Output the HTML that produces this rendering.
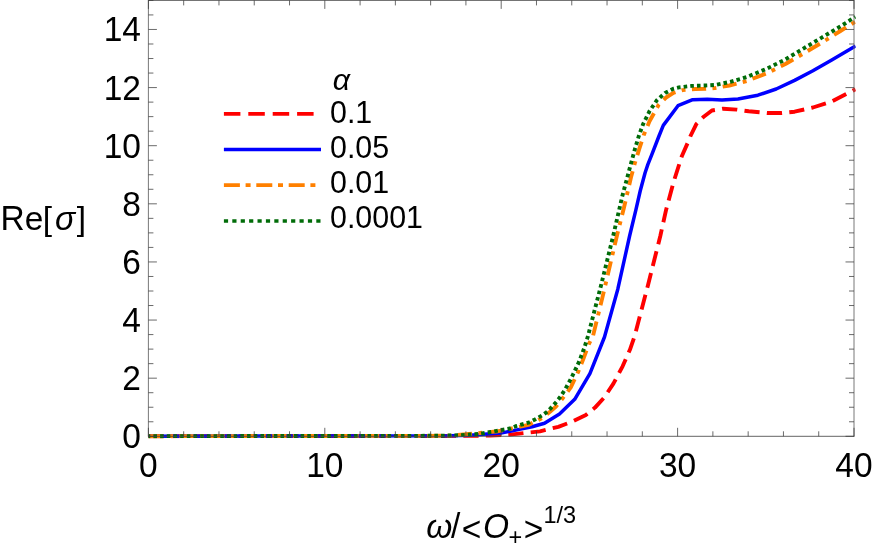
<!DOCTYPE html>
<html><head><meta charset="utf-8"><title>plot</title>
<style>
html,body{margin:0;padding:0;background:#fff;}
body{width:872px;height:545px;overflow:hidden;}
svg{display:block;will-change:transform;}
text{font-family:"Liberation Sans",sans-serif;fill:#000;}
</style></head><body>
<svg width="872" height="545" viewBox="0 0 872 545">
<rect x="0" y="0" width="872" height="545" fill="#fff"/>
<defs><clipPath id="c"><rect x="147.9" y="0" width="707.80" height="438.50"/></clipPath></defs>
<g fill="none" stroke-width="3.9" stroke-linejoin="round" clip-path="url(#c)">
<path d="M148.5 436.2 L470.0 435.9 L490.0 435.5 L510.0 434.6 L528.4 432.6 L540.0 431.4 L558.3 426.8 L573.0 421.3 L585.9 414.9 L595.0 407.6 L604.2 397.5 L613.4 383.7 L622.6 366.3 L629.9 349.8 L634.8 335.5 L647.9 285.5 L660.3 236.0 L666.2 209.4 L673.6 181.9 L681.8 156.2 L688.3 141.5 L690.5 136.0 L696.3 124.1 L703.7 116.7 L711.9 110.5 L722.9 108.7 L736.7 109.6 L748.7 111.3 L767.0 113.0 L781.7 113.0 L794.6 111.7 L812.9 107.5 L831.3 101.7 L847.8 93.2 L855.5 89.2" stroke="#ff0000" stroke-dasharray="15.2 7.29"/>
<path d="M148.5 436.2 L450.0 435.8 L470.0 435.3 L500.9 433.1 L519.3 429.4 L532.1 426.7 L544.5 423.2 L559.5 414.0 L574.7 399.3 L589.9 373.6 L604.5 337.0 L617.8 289.2 L629.6 236.0 L636.0 209.4 L640.2 191.0 L645.1 172.7 L647.9 164.4 L651.9 154.3 L659.0 136.0 L663.3 125.4 L678.0 105.7 L692.7 99.7 L707.3 99.3 L722.0 99.9 L738.0 99.0 L757.9 95.2 L776.2 89.0 L794.6 80.4 L812.9 70.8 L831.3 60.2 L855.5 45.9" stroke="#0000ff" stroke-width="3.5"/>
<path d="M148.5 436.2 L450.0 435.8 L480.0 433.0 L498.3 431.2 L516.7 427.5 L528.4 424.9 L543.1 417.5 L549.7 412.1 L556.0 406.5 L562.6 398.4 L570.8 387.4 L578.2 371.8 L583.7 358.0 L589.2 343.3 L593.0 336.0 L602.2 298.4 L617.2 234.6 L624.0 207.6 L631.0 177.3 L635.0 162.6 L639.6 147.9 L643.7 135.2 L649.5 121.3 L658.7 104.8 L666.1 97.5 L673.4 92.9 L682.6 90.1 L695.4 89.0 L705.5 88.8 L714.7 88.1 L729.4 85.5 L746.8 81.0 L767.0 73.2 L785.4 64.0 L803.7 53.4 L822.1 42.4 L840.4 31.0 L855.5 21.6" stroke="#ff8000" stroke-dasharray="14.2 6.4 3.94 6.4"/>
<path d="M148.5 436.2 L440.0 435.8 L460.0 435.2 L478.9 434.0 L491.7 431.8 L498.3 430.5 L510.1 428.5 L516.7 425.9 L528.4 422.7 L535.0 419.5 L543.1 414.8 L547.9 411.2 L552.3 406.5 L557.1 401.1 L560.0 397.3 L565.3 389.2 L571.7 377.3 L579.1 361.7 L584.6 347.0 L588.0 336.0 L601.0 285.5 L613.5 234.5 L622.2 196.6 L629.5 169.0 L635.0 148.8 L638.8 136.0 L643.1 124.1 L649.5 111.2 L656.9 100.2 L665.1 92.9 L673.4 88.7 L678.9 87.4 L691.7 85.9 L705.5 85.5 L715.0 85.0 L730.3 81.8 L746.5 77.2 L767.0 68.6 L785.4 59.4 L803.7 48.4 L822.1 37.4 L840.4 26.4 L855.5 16.8" stroke="#006c08" stroke-dasharray="3.6 3.09" stroke-dashoffset="1.8"/>
</g>
<g stroke-width="0.9" fill="none">
<path d="M148.4 0.40V436.3 M854.0 0.40V436.3" stroke="#6a6a6a"/>
<path d="M147.95 0.40H854.45 M147.95 436.3H854.45" stroke="#484848" stroke-width="0.85"/>
</g>
<g stroke="#3a3a3a" stroke-width="0.75">
<line x1="148.4" y1="436.30" x2="156.9" y2="436.30"/>
<line x1="854.0" y1="436.30" x2="845.5" y2="436.30"/>
<line x1="148.4" y1="421.77" x2="153.4" y2="421.77"/>
<line x1="854.0" y1="421.77" x2="849.0" y2="421.77"/>
<line x1="148.4" y1="407.24" x2="153.4" y2="407.24"/>
<line x1="854.0" y1="407.24" x2="849.0" y2="407.24"/>
<line x1="148.4" y1="392.71" x2="153.4" y2="392.71"/>
<line x1="854.0" y1="392.71" x2="849.0" y2="392.71"/>
<line x1="148.4" y1="378.18" x2="156.9" y2="378.18"/>
<line x1="854.0" y1="378.18" x2="845.5" y2="378.18"/>
<line x1="148.4" y1="363.65" x2="153.4" y2="363.65"/>
<line x1="854.0" y1="363.65" x2="849.0" y2="363.65"/>
<line x1="148.4" y1="349.12" x2="153.4" y2="349.12"/>
<line x1="854.0" y1="349.12" x2="849.0" y2="349.12"/>
<line x1="148.4" y1="334.59" x2="153.4" y2="334.59"/>
<line x1="854.0" y1="334.59" x2="849.0" y2="334.59"/>
<line x1="148.4" y1="320.06" x2="156.9" y2="320.06"/>
<line x1="854.0" y1="320.06" x2="845.5" y2="320.06"/>
<line x1="148.4" y1="305.53" x2="153.4" y2="305.53"/>
<line x1="854.0" y1="305.53" x2="849.0" y2="305.53"/>
<line x1="148.4" y1="291.00" x2="153.4" y2="291.00"/>
<line x1="854.0" y1="291.00" x2="849.0" y2="291.00"/>
<line x1="148.4" y1="276.47" x2="153.4" y2="276.47"/>
<line x1="854.0" y1="276.47" x2="849.0" y2="276.47"/>
<line x1="148.4" y1="261.94" x2="156.9" y2="261.94"/>
<line x1="854.0" y1="261.94" x2="845.5" y2="261.94"/>
<line x1="148.4" y1="247.41" x2="153.4" y2="247.41"/>
<line x1="854.0" y1="247.41" x2="849.0" y2="247.41"/>
<line x1="148.4" y1="232.88" x2="153.4" y2="232.88"/>
<line x1="854.0" y1="232.88" x2="849.0" y2="232.88"/>
<line x1="148.4" y1="218.35" x2="153.4" y2="218.35"/>
<line x1="854.0" y1="218.35" x2="849.0" y2="218.35"/>
<line x1="148.4" y1="203.82" x2="156.9" y2="203.82"/>
<line x1="854.0" y1="203.82" x2="845.5" y2="203.82"/>
<line x1="148.4" y1="189.29" x2="153.4" y2="189.29"/>
<line x1="854.0" y1="189.29" x2="849.0" y2="189.29"/>
<line x1="148.4" y1="174.76" x2="153.4" y2="174.76"/>
<line x1="854.0" y1="174.76" x2="849.0" y2="174.76"/>
<line x1="148.4" y1="160.23" x2="153.4" y2="160.23"/>
<line x1="854.0" y1="160.23" x2="849.0" y2="160.23"/>
<line x1="148.4" y1="145.70" x2="156.9" y2="145.70"/>
<line x1="854.0" y1="145.70" x2="845.5" y2="145.70"/>
<line x1="148.4" y1="131.17" x2="153.4" y2="131.17"/>
<line x1="854.0" y1="131.17" x2="849.0" y2="131.17"/>
<line x1="148.4" y1="116.64" x2="153.4" y2="116.64"/>
<line x1="854.0" y1="116.64" x2="849.0" y2="116.64"/>
<line x1="148.4" y1="102.11" x2="153.4" y2="102.11"/>
<line x1="854.0" y1="102.11" x2="849.0" y2="102.11"/>
<line x1="148.4" y1="87.58" x2="156.9" y2="87.58"/>
<line x1="854.0" y1="87.58" x2="845.5" y2="87.58"/>
<line x1="148.4" y1="73.05" x2="153.4" y2="73.05"/>
<line x1="854.0" y1="73.05" x2="849.0" y2="73.05"/>
<line x1="148.4" y1="58.52" x2="153.4" y2="58.52"/>
<line x1="854.0" y1="58.52" x2="849.0" y2="58.52"/>
<line x1="148.4" y1="43.99" x2="153.4" y2="43.99"/>
<line x1="854.0" y1="43.99" x2="849.0" y2="43.99"/>
<line x1="148.4" y1="29.46" x2="156.9" y2="29.46"/>
<line x1="854.0" y1="29.46" x2="845.5" y2="29.46"/>
<line x1="148.4" y1="14.93" x2="153.4" y2="14.93"/>
<line x1="854.0" y1="14.93" x2="849.0" y2="14.93"/>
<line x1="148.4" y1="0.40" x2="153.4" y2="0.40"/>
<line x1="854.0" y1="0.40" x2="849.0" y2="0.40"/>
<line x1="148.40" y1="436.3" x2="148.40" y2="427.8"/>
<line x1="148.40" y1="0.40" x2="148.40" y2="8.90"/>
<line x1="183.68" y1="436.3" x2="183.68" y2="431.3"/>
<line x1="183.68" y1="0.40" x2="183.68" y2="5.40"/>
<line x1="218.96" y1="436.3" x2="218.96" y2="431.3"/>
<line x1="218.96" y1="0.40" x2="218.96" y2="5.40"/>
<line x1="254.24" y1="436.3" x2="254.24" y2="431.3"/>
<line x1="254.24" y1="0.40" x2="254.24" y2="5.40"/>
<line x1="289.52" y1="436.3" x2="289.52" y2="431.3"/>
<line x1="289.52" y1="0.40" x2="289.52" y2="5.40"/>
<line x1="324.80" y1="436.3" x2="324.80" y2="427.8"/>
<line x1="324.80" y1="0.40" x2="324.80" y2="8.90"/>
<line x1="360.08" y1="436.3" x2="360.08" y2="431.3"/>
<line x1="360.08" y1="0.40" x2="360.08" y2="5.40"/>
<line x1="395.36" y1="436.3" x2="395.36" y2="431.3"/>
<line x1="395.36" y1="0.40" x2="395.36" y2="5.40"/>
<line x1="430.64" y1="436.3" x2="430.64" y2="431.3"/>
<line x1="430.64" y1="0.40" x2="430.64" y2="5.40"/>
<line x1="465.92" y1="436.3" x2="465.92" y2="431.3"/>
<line x1="465.92" y1="0.40" x2="465.92" y2="5.40"/>
<line x1="501.20" y1="436.3" x2="501.20" y2="427.8"/>
<line x1="501.20" y1="0.40" x2="501.20" y2="8.90"/>
<line x1="536.48" y1="436.3" x2="536.48" y2="431.3"/>
<line x1="536.48" y1="0.40" x2="536.48" y2="5.40"/>
<line x1="571.76" y1="436.3" x2="571.76" y2="431.3"/>
<line x1="571.76" y1="0.40" x2="571.76" y2="5.40"/>
<line x1="607.04" y1="436.3" x2="607.04" y2="431.3"/>
<line x1="607.04" y1="0.40" x2="607.04" y2="5.40"/>
<line x1="642.32" y1="436.3" x2="642.32" y2="431.3"/>
<line x1="642.32" y1="0.40" x2="642.32" y2="5.40"/>
<line x1="677.60" y1="436.3" x2="677.60" y2="427.8"/>
<line x1="677.60" y1="0.40" x2="677.60" y2="8.90"/>
<line x1="712.88" y1="436.3" x2="712.88" y2="431.3"/>
<line x1="712.88" y1="0.40" x2="712.88" y2="5.40"/>
<line x1="748.16" y1="436.3" x2="748.16" y2="431.3"/>
<line x1="748.16" y1="0.40" x2="748.16" y2="5.40"/>
<line x1="783.44" y1="436.3" x2="783.44" y2="431.3"/>
<line x1="783.44" y1="0.40" x2="783.44" y2="5.40"/>
<line x1="818.72" y1="436.3" x2="818.72" y2="431.3"/>
<line x1="818.72" y1="0.40" x2="818.72" y2="5.40"/>
<line x1="854.00" y1="436.3" x2="854.00" y2="427.8"/>
<line x1="854.00" y1="0.40" x2="854.00" y2="8.90"/>
</g>
<text transform="translate(140.90 448.30) scale(1 1.07)" font-size="33.5" text-anchor="end">0</text>
<text transform="translate(140.90 390.18) scale(1 1.07)" font-size="33.5" text-anchor="end">2</text>
<text transform="translate(140.90 332.06) scale(1 1.07)" font-size="33.5" text-anchor="end">4</text>
<text transform="translate(140.90 273.94) scale(1 1.07)" font-size="33.5" text-anchor="end">6</text>
<text transform="translate(140.90 215.82) scale(1 1.07)" font-size="33.5" text-anchor="end">8</text>
<text transform="translate(140.90 157.70) scale(1 1.07)" font-size="33.5" text-anchor="end">10</text>
<text transform="translate(140.90 99.58) scale(1 1.07)" font-size="33.5" text-anchor="end">12</text>
<text transform="translate(140.90 41.46) scale(1 1.07)" font-size="33.5" text-anchor="end">14</text>
<text transform="translate(148.40 476.90) scale(1 1.07)" font-size="33.5" text-anchor="middle">0</text>
<text transform="translate(324.80 476.90) scale(1 1.07)" font-size="33.5" text-anchor="middle">10</text>
<text transform="translate(501.20 476.90) scale(1 1.07)" font-size="33.5" text-anchor="middle">20</text>
<text transform="translate(677.60 476.90) scale(1 1.07)" font-size="33.5" text-anchor="middle">30</text>
<text transform="translate(854.00 476.90) scale(1 1.07)" font-size="33.5" text-anchor="middle">40</text>
<text transform="translate(0.60 230.00) scale(1 1.04)" font-size="33.5" text-anchor="start">R</text><text transform="translate(24.77 230.00) scale(1 0.98)" font-size="33.5" text-anchor="start">e</text><text transform="translate(42.81 230.30) scale(1 0.98)" font-size="33.5" text-anchor="start">[</text><text transform="translate(55.02 230.00) scale(1 0.98)" font-size="33.5" text-anchor="start" font-style="italic">σ</text><text transform="translate(76.72 230.30) scale(1 0.98)" font-size="33.5" text-anchor="start">]</text>
<text transform="translate(426.30 537.50) scale(1 0.98)" font-size="33.5" text-anchor="start" font-style="italic">ω</text><text transform="translate(451.08 537.50) scale(1 1.04)" font-size="33.5" text-anchor="start">/</text><text transform="translate(461.79 541.14) scale(1 1.04)" font-size="33.5" text-anchor="start">&lt;</text><text transform="translate(482.95 537.50) scale(1 1.04)" font-size="33.5" text-anchor="start" font-style="italic">O</text><text transform="translate(508.50 544.99) scale(1 1.04)" font-size="23.5" text-anchor="start">+</text><text transform="translate(523.63 541.14) scale(1 1.04)" font-size="33.5" text-anchor="start">&gt;</text><text transform="translate(543.49 522.52) scale(1 1.04)" font-size="23.5" text-anchor="start">1/3</text>
<g fill="none" stroke-width="3.7">
<line x1="223.9" y1="113.9" x2="313.7" y2="113.9" stroke="#ff0000" stroke-dasharray="16.5 7.9"/>
<line x1="223.9" y1="149.5" x2="321" y2="149.5" stroke="#0000ff"/>
<line x1="223.9" y1="185.2" x2="321" y2="185.2" stroke="#ff8000" stroke-dasharray="16 5.7 5 5.7"/>
<line x1="223.9" y1="221" x2="321" y2="221" stroke="#006c08" stroke-dasharray="4.2 4.2"/>
</g>
<text transform="translate(332.70 89.60) scale(1 0.98)" font-size="30.4" text-anchor="start" font-style="italic">α</text>
<text transform="translate(330.00 122.90) scale(1 1.04)" font-size="30.4" text-anchor="start">0.1</text>
<text transform="translate(330.00 158.00) scale(1 1.04)" font-size="30.4" text-anchor="start">0.05</text>
<text transform="translate(330.00 193.20) scale(1 1.04)" font-size="30.4" text-anchor="start">0.01</text>
<text transform="translate(330.00 228.40) scale(1 1.04)" font-size="30.4" text-anchor="start">0.0001</text>
</svg>
</body></html>
